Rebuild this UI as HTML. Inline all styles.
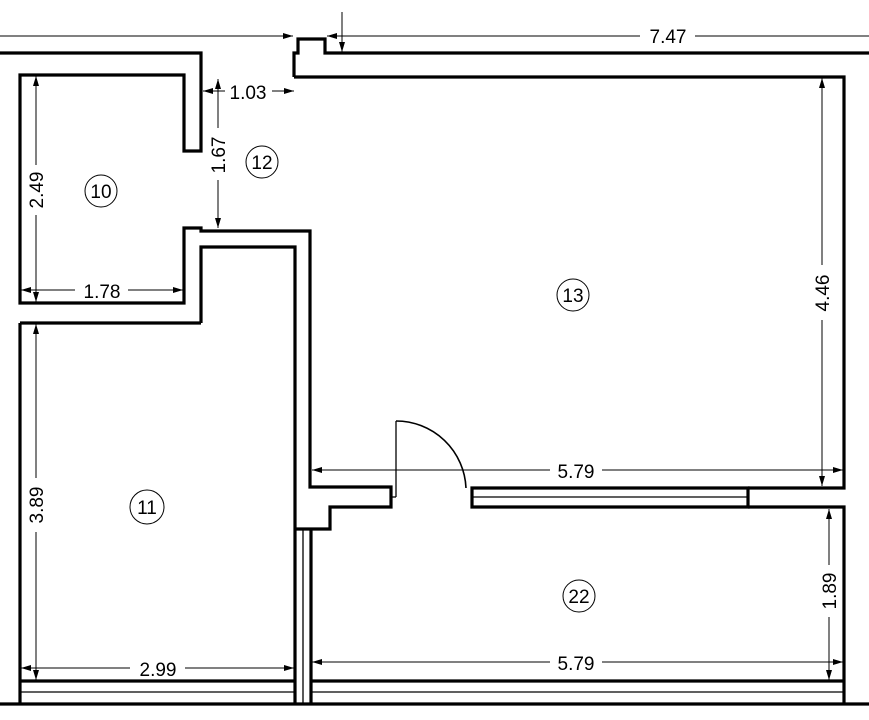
<!DOCTYPE html>
<html><head><meta charset="utf-8"><style>html,body{margin:0;padding:0;background:#fff}svg{display:block}</style></head>
<body>
<svg width="869" height="720" viewBox="0 0 869 720" xmlns="http://www.w3.org/2000/svg" font-family="Liberation Sans, sans-serif">
<defs>
<marker id="a" viewBox="0 0 10 6" refX="10" refY="3" markerWidth="10" markerHeight="6" orient="auto-start-reverse" markerUnits="userSpaceOnUse"><path d="M0,0L10,3L0,6z" fill="#000"/></marker>
</defs>
<rect width="869" height="720" fill="#fff"/>
<g fill="none" stroke="#000" stroke-width="3.2" stroke-linejoin="miter">
<!-- top wall -->
<path d="M294,77 V53 H298 V39 H325 V53 H869"/>
<path d="M294,77 H844 V488 H748"/>
<!-- room 10 -->
<path d="M0,53 H201 V151 H184 V75 H20 V303 H184 V228 H201 V231 H310 V487 H391 V507 H330 V529 H295"/>
<!-- room 11 -->
<path d="M201,323 V247 H295 V705"/>
<path d="M20,323 H201"/>
<path d="M20,323 V705"/>
<path d="M311,529 V705"/>
<!-- window 13 -->
<path d="M472,488 H748 V507 H472 Z"/>
<path d="M748,507 H844 V705"/>
<!-- bottom -->
<path d="M20,681 H295 M311,681 H844"/>
<path d="M0,704 H869"/>
</g>
<g fill="none" stroke="#000" stroke-width="1.3">
<path d="M303,530 V704"/>
<path d="M20,692 H295 M311,692 H844"/>
<path d="M472,497 H748"/>
<path d="M391,497 H396"/>
<path d="M396,421 V497"/>
<path d="M396,421 A70,70 0 0 1 466,488" stroke-width="1.6"/>
</g>
<g stroke="#000" stroke-width="1" fill="none">
<line x1="0" y1="36" x2="293" y2="36" marker-end="url(#a)"/>
<line x1="327" y1="36" x2="640" y2="36" marker-start="url(#a)"/>
<line x1="695" y1="36" x2="869" y2="36"/>
<line x1="342" y1="12" x2="342" y2="52" marker-end="url(#a)"/>
<line x1="203" y1="91" x2="225" y2="91" marker-start="url(#a)"/>
<line x1="272" y1="91" x2="294" y2="91" marker-end="url(#a)"/>
<line x1="218" y1="79" x2="218" y2="128" marker-start="url(#a)"/>
<line x1="218" y1="180" x2="218" y2="228" marker-end="url(#a)"/>
<line x1="36" y1="76" x2="36" y2="165" marker-start="url(#a)"/>
<line x1="36" y1="215" x2="36" y2="302" marker-end="url(#a)"/>
<line x1="21" y1="290" x2="75" y2="290" marker-start="url(#a)"/>
<line x1="128" y1="290" x2="183" y2="290" marker-end="url(#a)"/>
<line x1="36" y1="324" x2="36" y2="478" marker-start="url(#a)"/>
<line x1="36" y1="532" x2="36" y2="680" marker-end="url(#a)"/>
<line x1="21" y1="668" x2="130" y2="668" marker-start="url(#a)"/>
<line x1="185" y1="668" x2="294" y2="668" marker-end="url(#a)"/>
<line x1="822" y1="78" x2="822" y2="265" marker-start="url(#a)"/>
<line x1="822" y1="320" x2="822" y2="486" marker-end="url(#a)"/>
<line x1="312" y1="470" x2="550" y2="470" marker-start="url(#a)"/>
<line x1="602" y1="470" x2="843" y2="470" marker-end="url(#a)"/>
<line x1="829" y1="509" x2="829" y2="565" marker-start="url(#a)"/>
<line x1="829" y1="617" x2="829" y2="680" marker-end="url(#a)"/>
<line x1="312" y1="662" x2="550" y2="662" marker-start="url(#a)"/>
<line x1="602" y1="662" x2="843" y2="662" marker-end="url(#a)"/>
</g>
<g font-size="19" fill="#000" text-anchor="middle">
<text x="668" y="43">7.47</text>
<text x="248" y="99">1.03</text>
<text x="102" y="298">1.78</text>
<text x="158" y="676">2.99</text>
<text x="576" y="478">5.79</text>
<text x="576" y="670">5.79</text>
<text transform="translate(225,155) rotate(-90)">1.67</text>
<text transform="translate(43,190) rotate(-90)">2.49</text>
<text transform="translate(43,505) rotate(-90)">3.89</text>
<text transform="translate(829,293) rotate(-90)">4.46</text>
<text transform="translate(836,591) rotate(-90)">1.89</text>
</g>
<g fill="none" stroke="#000" stroke-width="1">
<circle cx="262" cy="162" r="16"/>
<circle cx="101" cy="191" r="16"/>
<circle cx="147" cy="507" r="17"/>
<circle cx="573" cy="295" r="16"/>
<circle cx="579" cy="596" r="16"/>
</g>
<g font-size="19" fill="#000" text-anchor="middle">
<text x="262" y="169">12</text>
<text x="101" y="198">10</text>
<text x="147" y="514">11</text>
<text x="573" y="302">13</text>
<text x="579" y="603">22</text>
</g>
</svg>
</body></html>
